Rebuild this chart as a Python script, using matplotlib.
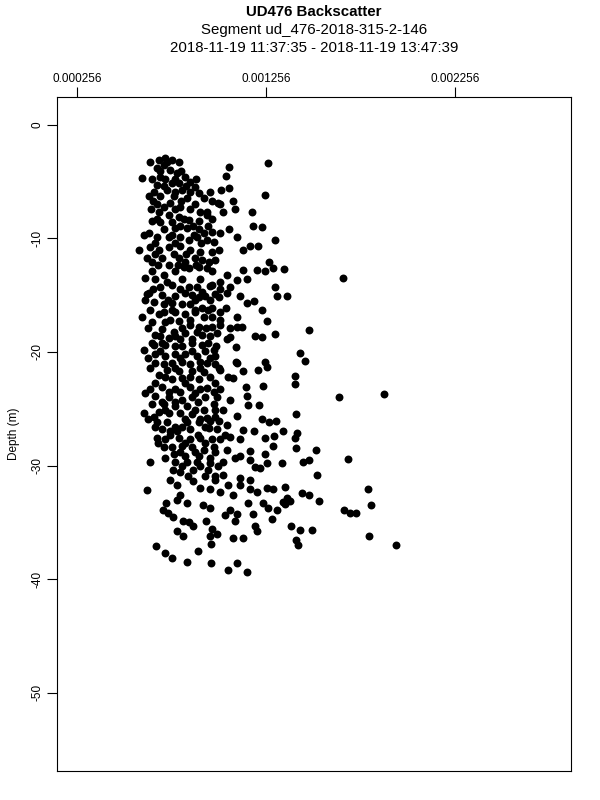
import matplotlib
matplotlib.use("Agg")
import matplotlib.pyplot as plt

# Backscatter readings (x) and depth in metres (y), band by band
bs_upper = [6.90e-4, 7.22e-4, 7.59e-4, 7.96e-4, 7.16e-4, 6.79e-4, 7.48e-4, 7.85e-4, 8.27e-4, 8.54e-4,
            6.00e-4, 6.95e-4, 7.22e-4, 6.79e-4, 7.59e-4, 7.96e-4, 7.32e-4, 8.11e-4, 8.80e-4, 9.01e-4,
            6.37e-4, 6.95e-4, 7.69e-4, 8.38e-4, 9.28e-4, 9.60e-4, 1.012e-3, 6.79e-4, 7.16e-4, 7.48e-4,
            8.01e-4, 8.80e-4, 9.07e-4, 9.44e-4, 6.90e-4, 7.43e-4, 7.96e-4, 8.49e-4, 9.01e-4, 9.44e-4,
            6.53e-4, 6.95e-4, 7.59e-4, 7.16e-4, 7.74e-4, 8.38e-4, 9.01e-4, 9.28e-4, 9.70e-4, 6.37e-4,
            6.79e-4, 7.43e-4, 8.01e-4, 8.49e-4, 8.91e-4, 9.44e-4, 9.81e-4, 5.84e-4, 6.42e-4, 6.90e-4,
            7.43e-4, 8.01e-4, 8.54e-4, 9.07e-4, 9.70e-4, 1.007e-3, 1.267e-3, 1.060e-3, 1.044e-3, 1.018e-3,
            1.060e-3, 1.251e-3, 1.002e-3, 1.081e-3, 1.028e-3, 1.092e-3, 1.182e-3, 1.187e-3, 1.235e-3, 1.303e-3,
            1.012e-3, 1.060e-3, 1.102e-3, 1.134e-3, 1.171e-3, 1.213e-3]
depth_upper = [-3.1, -2.9, -3.1, -3.3, -3.5, -3.8, -4.0, -4.2, -4.6, -5.0,
               -4.7, -4.6, -4.8, -5.3, -5.1, -5.1, -5.7, -5.7, -5.5, -6.0,
               -6.3, -6.3, -6.3, -6.4, -6.4, -5.9, -7.0, -7.0, -7.2, -6.9,
               -7.2, -7.0, -7.7, -7.7, -7.7, -7.9, -8.1, -8.4, -8.5, -7.9,
               -8.5, -8.6, -8.6, -9.2, -9.1, -9.1, -9.2, -9.5, -9.4, -9.5,
               -9.9, -9.9, -9.9, -10.1, -9.9, -10.1, -10.3, -11.0, -10.8, -11.0,
               -10.8, -10.7, -11.0, -11.2, -11.2, -11.0, -3.4, -3.7, -4.5, -5.7,
               -5.6, -6.2, -6.9, -6.7, -7.7, -7.4, -7.7, -8.9, -9.0, -10.1,
               -9.5, -9.2, -9.9, -11.0, -10.7, -10.7]

bs_mid = [6.26e-4, 6.53e-4, 7.06e-4, 7.43e-4, 7.96e-4, 8.27e-4, 8.80e-4, 9.17e-4, 9.54e-4, 9.86e-4,
          8.49e-4, 9.01e-4, 9.44e-4, 8.22e-4, 6.16e-4, 7.16e-4, 7.32e-4, 6.95e-4, 7.59e-4, 9.70e-4,
          1.012e-3, 8.49e-4, 8.91e-4, 9.17e-4, 6.37e-4, 7.06e-4, 7.74e-4, 8.27e-4, 8.64e-4, 9.01e-4,
          9.33e-4, 1.007e-3, 6.63e-4, 7.16e-4, 7.59e-4, 8.11e-4, 8.54e-4, 9.17e-4, 9.70e-4, 7.16e-4,
          7.74e-4, 8.27e-4, 8.80e-4, 1.012e-3, 6.00e-4, 6.90e-4, 9.28e-4, 9.70e-4, 6.53e-4, 7.22e-4,
          7.96e-4, 8.54e-4, 9.01e-4, 9.70e-4, 7.06e-4, 7.69e-4, 8.27e-4, 8.91e-4, 6.69e-4, 7.43e-4,
          8.01e-4, 8.64e-4, 9.17e-4, 9.97e-4, 6.10e-4, 6.63e-4, 7.22e-4, 7.74e-4, 8.11e-4, 9.17e-4,
          9.81e-4, 6.69e-4, 7.22e-4, 7.74e-4, 8.27e-4, 8.91e-4, 1.134e-3, 1.208e-3, 1.251e-3, 1.293e-3,
          1.351e-3, 1.272e-3, 1.049e-3, 1.102e-3, 1.155e-3, 9.60e-4, 1.065e-3, 1.303e-3, 1.367e-3, 1.314e-3,
          1.192e-3, 1.155e-3, 1.118e-3, 1.049e-3, 9.86e-4, 1.235e-3, 1.044e-3, 1.102e-3, 9.49e-4, 1.261e-3,
          1.012e-3, 1.065e-3, 1.102e-3, 1.129e-3, 1.303e-3, 1.198e-3, 1.235e-3, 1.065e-3, 1.049e-3, 9.91e-4,
          1.097e-3, 9.86e-4, 1.097e-3, 1.251e-3, 6.26e-4, 6.53e-4, 1.663e-3, 1.484e-3, 1.436e-3, 1.462e-3]
depth_mid = [-11.7, -12.1, -11.7, -12.3, -11.7, -12.1, -11.7, -11.9, -12.1, -11.9,
             -12.6, -12.5, -12.6, -12.5, -13.5, -13.2, -13.8, -14.3, -14.1, -14.1,
             -13.8, -14.3, -14.3, -14.7, -14.8, -15.0, -15.1, -14.8, -15.0, -15.2,
             -15.1, -15.2, -15.6, -15.8, -15.7, -15.8, -15.8, -16.1, -16.1, -16.5,
             -16.5, -16.7, -16.5, -16.5, -16.9, -16.7, -16.9, -16.9, -17.4, -17.4,
             -17.3, -17.6, -17.8, -17.8, -18.0, -18.2, -18.3, -18.2, -18.5, -18.8,
             -18.9, -18.9, -18.5, -18.3, -19.8, -19.4, -19.4, -19.5, -19.5, -19.4,
             -19.8, -20.2, -20.4, -20.2, -20.2, -20.4, -12.8, -12.8, -12.9, -12.6,
             -12.7, -12.1, -13.2, -13.7, -13.6, -14.2, -14.3, -14.3, -15.1, -15.1,
             -15.5, -15.7, -15.1, -14.8, -14.9, -16.3, -16.1, -16.9, -16.3, -17.3,
             -17.6, -17.9, -17.8, -17.8, -18.4, -18.6, -18.7, -18.7, -18.9, -19.5,
             -19.6, -20.4, -20.9, -20.9, -14.9, -19.2, -13.5, -18.1, -20.1, -20.8]

bs_low = [6.69e-4, 7.16e-4, 7.59e-4, 8.11e-4, 8.54e-4, 9.07e-4, 9.44e-4, 9.86e-4, 1.007e-3, 7.32e-4,
          7.96e-4, 8.64e-4, 9.28e-4, 6.90e-4, 8.11e-4, 9.01e-4, 7.59e-4, 6.16e-4, 7.06e-4, 7.43e-4,
          8.01e-4, 8.54e-4, 8.80e-4, 9.44e-4, 9.81e-4, 6.69e-4, 7.43e-4, 8.11e-4, 8.64e-4, 9.33e-4,
          9.97e-4, 6.53e-4, 7.16e-4, 7.74e-4, 8.38e-4, 9.28e-4, 9.81e-4, 6.10e-4, 6.90e-4, 7.43e-4,
          8.01e-4, 8.64e-4, 9.44e-4, 9.86e-4, 6.63e-4, 6.79e-4, 7.32e-4, 7.74e-4, 8.38e-4, 9.01e-4,
          9.60e-4, 1.007e-3, 7.06e-4, 7.48e-4, 8.54e-4, 9.54e-4, 7.85e-4, 9.97e-4, 7.22e-4, 7.96e-4,
          8.54e-4, 9.07e-4, 9.70e-4, 7.16e-4, 7.59e-4, 8.11e-4, 8.64e-4, 9.28e-4, 9.81e-4, 7.69e-4,
          8.27e-4, 9.01e-4, 6.42e-4, 7.74e-4, 8.38e-4, 8.91e-4, 9.60e-4, 1.102e-3, 1.012e-3, 1.261e-3,
          1.213e-3, 1.134e-3, 1.081e-3, 1.055e-3, 1.012e-3, 1.150e-3, 1.240e-3, 1.155e-3, 1.065e-3, 1.161e-3,
          1.219e-3, 1.028e-3, 1.102e-3, 1.235e-3, 1.272e-3, 1.309e-3, 1.049e-3, 1.134e-3, 1.192e-3, 1.346e-3,
          1.012e-3, 1.065e-3, 1.118e-3, 1.251e-3, 1.298e-3, 1.049e-3, 1.171e-3, 1.293e-3, 1.028e-3, 1.118e-3,
          1.171e-3, 1.251e-3, 1.340e-3, 1.261e-3, 1.198e-3, 6.79e-4, 1.409e-3, 1.409e-3, 1.642e-3, 1.880e-3,
          1.415e-3, 1.420e-3, 1.409e-3, 1.415e-3, 1.520e-3, 1.484e-3, 1.452e-3, 1.690e-3]
depth_low = [-21.0, -21.1, -21.0, -20.9, -21.1, -20.9, -21.0, -21.1, -21.4, -21.6,
             -21.7, -21.7, -21.8, -22.0, -22.3, -22.4, -22.4, -23.6, -23.1, -23.5,
             -23.5, -23.1, -23.6, -23.2, -23.5, -23.9, -24.0, -24.2, -24.0, -24.0,
             -24.0, -24.6, -24.6, -24.8, -24.8, -25.1, -24.6, -25.4, -25.3, -25.4,
             -25.4, -25.5, -25.8, -25.7, -25.7, -26.2, -26.2, -26.6, -26.2, -26.2,
             -26.1, -26.1, -26.8, -27.0, -26.8, -26.7, -27.0, -26.8, -27.7, -27.6,
             -27.7, -27.6, -27.7, -28.4, -28.4, -28.3, -28.4, -28.6, -28.4, -29.0,
             -29.2, -29.2, -29.7, -29.7, -29.7, -29.7, -29.8, -21.0, -21.6, -21.3,
             -21.6, -21.7, -22.3, -22.2, -23.3, -23.1, -23.0, -23.9, -24.2, -24.7,
             -24.7, -25.1, -25.6, -25.9, -26.2, -26.1, -26.4, -26.9, -27.0, -27.0,
             -27.7, -27.5, -27.7, -27.6, -27.4, -28.6, -28.7, -28.3, -29.7, -29.2,
             -29.5, -29.0, -29.8, -29.8, -30.1, -27.6, -22.1, -22.8, -24.0, -23.7,
             -25.5, -27.1, -27.6, -28.5, -28.6, -29.5, -29.7, -29.4]

bs_bottom = [7.64e-4, 8.01e-4, 8.70e-4, 9.49e-4, 1.028e-3, 1.118e-3, 1.224e-3, 1.293e-3, 7.85e-4, 8.70e-4,
             9.07e-4, 9.60e-4, 1.012e-3, 1.055e-3, 1.118e-3, 1.171e-3, 1.081e-3, 1.208e-3, 1.261e-3, 7.27e-4,
             8.01e-4, 7.85e-4, 8.38e-4, 9.23e-4, 9.60e-4, 1.065e-3, 1.161e-3, 1.187e-3, 1.240e-3, 1.267e-3,
             1.314e-3, 7.11e-4, 7.37e-4, 7.64e-4, 8.17e-4, 8.49e-4, 8.70e-4, 9.38e-4, 1.039e-3, 1.102e-3,
             1.092e-3, 1.198e-3, 1.288e-3, 7.85e-4, 8.17e-4, 9.70e-4, 9.60e-4, 9.97e-4, 1.081e-3, 1.134e-3,
             1.208e-3, 6.74e-4, 9.65e-4, 7.22e-4, 7.59e-4, 8.96e-4, 8.38e-4, 9.65e-4, 1.055e-3, 1.102e-3,
             1.155e-3, 6.26e-4, 1.525e-3, 1.356e-3, 1.446e-3, 1.484e-3, 1.796e-3, 1.536e-3, 1.367e-3, 1.346e-3,
             1.383e-3, 1.356e-3, 1.668e-3, 1.700e-3, 1.732e-3, 1.811e-3, 1.388e-3, 1.436e-3, 1.499e-3, 1.801e-3,
             1.415e-3, 1.425e-3, 1.944e-3]
depth_bottom = [-30.4, -30.6, -30.4, -30.4, -30.8, -31.1, -30.2, -32.1, -31.7, -31.4,
                -32.0, -32.1, -32.3, -31.7, -31.7, -32.1, -32.6, -32.3, -32.0, -33.3,
                -32.6, -33.0, -33.3, -33.5, -33.7, -33.9, -33.3, -34.3, -33.3, -33.7,
                -33.9, -33.9, -34.2, -34.5, -34.9, -35.0, -35.3, -34.9, -34.4, -34.3,
                -34.9, -35.3, -34.7, -35.8, -36.2, -35.6, -36.2, -36.0, -36.4, -36.4,
                -35.8, -37.1, -36.9, -37.7, -38.1, -37.5, -38.5, -38.6, -39.2, -38.6,
                -39.4, -32.2, -30.8, -31.9, -32.4, -32.6, -32.1, -33.1, -32.9, -33.2,
                -33.1, -33.4, -33.9, -34.2, -34.2, -33.5, -35.3, -35.7, -35.7, -36.2,
                -36.6, -37.0, -37.0]

# extra readings that fill the dense core of the cloud
bs_core = [6.42e-4, 7.32e-4, 6.95e-4, 8.06e-4, 6.53e-4, 7.74e-4, 8.86e-4, 7.16e-4, 8.33e-4, 6.63e-4,
           7.74e-4, 8.54e-4, 6.58e-4, 8.06e-4, 9.70e-4, 6.47e-4, 7.74e-4, 8.54e-4, 6.79e-4, 8.22e-4,
           9.70e-4, 8.01e-4, 8.70e-4, 9.49e-4, 6.10e-4, 7.59e-4, 8.75e-4, 6.69e-4, 7.74e-4, 9.12e-4,
           6.69e-4, 7.69e-4, 8.33e-4, 6.84e-4, 7.90e-4, 8.86e-4, 6.53e-4, 7.74e-4, 9.70e-4, 6.69e-4,
           8.11e-4, 9.07e-4, 6.58e-4, 8.01e-4, 1.012e-3, 6.16e-4, 7.37e-4, 8.80e-4, 9.60e-4, 6.42e-4,
           7.59e-4, 8.80e-4, 7.48e-4, 8.54e-4, 1.012e-3, 6.32e-4, 8.11e-4, 9.38e-4, 6.95e-4, 7.74e-4,
           9.60e-4, 7.06e-4, 8.64e-4, 9.49e-4, 6.95e-4, 8.64e-4, 9.33e-4, 6.32e-4, 8.01e-4, 9.60e-4,
           6.42e-4, 7.74e-4, 9.07e-4, 7.22e-4, 8.54e-4, 9.60e-4, 6.69e-4, 8.27e-4, 9.86e-4, 6.42e-4,
           7.74e-4, 9.07e-4, 7.06e-4, 7.74e-4, 8.96e-4, 7.22e-4, 8.80e-4, 9.86e-4, 6.32e-4, 8.27e-4,
           9.07e-4, 6.69e-4, 8.11e-4, 9.33e-4, 7.48e-4, 8.96e-4, 1.039e-3, 6.84e-4, 8.27e-4, 9.33e-4,
           8.01e-4, 8.80e-4, 9.86e-4, 7.22e-4, 9.60e-4, 1.092e-3, 8.11e-4, 9.07e-4, 1.002e-3, 8.43e-4,
           9.33e-4, 9.86e-4, 7.48e-4, 9.86e-4, 1.171e-3]
depth_core = [-3.3, -3.3, -4.1, -4.1, -4.8, -4.8, -4.8, -5.4, -5.4, -5.9,
              -5.9, -5.9, -6.7, -6.7, -6.7, -7.4, -7.4, -7.4, -8.3, -8.3,
              -8.3, -8.9, -8.9, -8.9, -9.7, -9.7, -9.7, -10.4, -10.4, -10.4,
              -11.4, -11.4, -11.4, -12.3, -12.3, -12.3, -12.9, -12.9, -12.9, -13.6,
              -13.6, -13.6, -14.5, -14.5, -14.5, -15.4, -15.4, -15.4, -15.4, -16.3,
              -16.3, -16.3, -17.2, -17.2, -17.2, -17.9, -17.9, -17.9, -18.6, -18.6,
              -18.6, -19.2, -19.2, -19.2, -19.9, -19.9, -19.9, -20.5, -20.5, -20.5,
              -21.4, -21.4, -21.4, -22.2, -22.2, -22.2, -22.7, -22.7, -22.7, -23.3,
              -23.3, -23.3, -24.4, -24.4, -24.4, -25.1, -25.1, -25.1, -25.9, -25.9,
              -25.9, -26.6, -26.6, -26.6, -27.3, -27.3, -27.3, -28.0, -28.0, -28.0,
              -28.8, -28.8, -28.8, -29.3, -29.3, -29.3, -30.0, -30.0, -30.0, -30.9,
              -30.9, -30.9, -31.3, -31.3, -31.3]

x_ticks = [0.000256, 0.001256, 0.002256]
x_tick_labels = ["0.000256", "0.001256", "0.002256"]
y_ticks = [0, -10, -20, -30, -40, -50]

plt.rcParams["font.family"] = ["Liberation Sans", "DejaVu Sans"]

fig = plt.figure(figsize=(6, 8), dpi=100)
ax = fig.add_axes([0.095, 0.03625, 0.8567, 0.8425])

for bs, dep in [(bs_upper, depth_upper), (bs_mid, depth_mid), (bs_low, depth_low),
                (bs_bottom, depth_bottom), (bs_core, depth_core)]:
    ax.plot(bs, dep, linestyle="none", marker="o", markersize=5.7,
            color="black", markeredgewidth=0)

ax.set_xlim(0.0001502, 0.0028698)
ax.set_ylim(-56.9, 2.45)

# top axis like the R plot
ax.xaxis.tick_top()
ax.set_xticks(x_ticks)
ax.set_xticklabels(x_tick_labels, fontsize=8.5)
ax.set_yticks(y_ticks)
ax.set_yticklabels([str(v) for v in y_ticks], fontsize=8.5, rotation=90, va="center")
ax.tick_params(axis="both", direction="out", length=7, width=0.8)
ax.tick_params(axis="x", pad=1.5)
ax.tick_params(axis="y", pad=3)
for sp in ax.spines.values():
    sp.set_linewidth(0.8)

ax.set_ylabel("Depth (m)", fontsize=8.5, labelpad=8)

# titles centred over the plotting region, like R's main title
cx = 0.095 + 0.8567 / 2
fig.text(cx, 0.9845, "UD476 Backscatter", ha="center", va="center", fontsize=10.8, fontweight="bold")
fig.text(cx, 0.962, "Segment ud_476-2018-315-2-146", ha="center", va="center", fontsize=10.8)
fig.text(cx, 0.9395, "2018-11-19 11:37:35 - 2018-11-19 13:47:39", ha="center", va="center", fontsize=10.8)

fig.savefig("out.png", dpi=100)
